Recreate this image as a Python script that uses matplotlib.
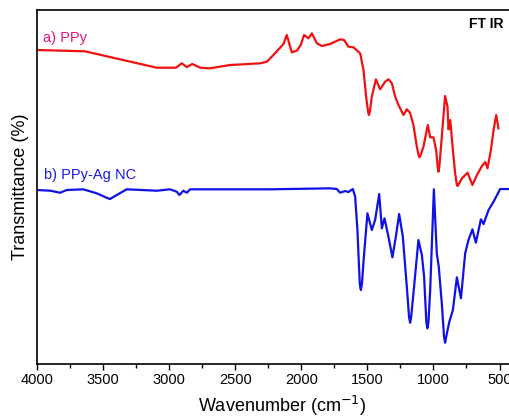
import matplotlib
matplotlib.use("Agg")
import matplotlib.pyplot as plt
from matplotlib.ticker import MultipleLocator

plt.rcParams['font.family'] = ['Liberation Sans', 'DejaVu Sans']

# FT-IR spectrum of PPy (wavenumber in cm-1, transmittance in arbitrary units)
wn_ppy = [4000, 3639, 3095, 2950, 2906, 2868, 2826, 2767, 2692, 2540, 2313,
          2262, 2212, 2136, 2111, 2073, 2035, 2005, 1980, 1947, 1921, 1883,
          1845, 1782, 1707, 1677, 1644, 1606, 1555, 1530, 1510, 1495, 1489,
          1482, 1467, 1436, 1404, 1366, 1341, 1315, 1290, 1265, 1227, 1202,
          1177, 1152, 1126, 1112, 1106, 1098, 1076, 1043, 1025, 1000, 980, 968,
          962, 955, 937, 912, 894, 886, 873, 853, 836, 824, 818, 810, 785, 742,
          705, 671, 633, 608, 591, 565, 545, 525, 508]
t_ppy = [314, 312.7, 296.3, 296.3, 300.7, 297, 300, 296.3, 295.7, 299, 300.7,
         302.3, 309, 320, 329, 311.7, 313.3, 319, 329, 325.7, 330.7, 320.7,
         318, 320, 324.7, 324, 317.3, 316.7, 310.7, 294, 267.3, 252, 249,
         252, 267.3, 284.7, 274.7, 282.3, 284.7, 280.7, 267.3, 259, 249, 254.7,
         251.3, 239, 217.3, 208.5, 206.7, 208.5, 217.3, 239, 226.7, 226.7, 214, 197,
         192.3, 198, 227.3, 268, 257.3, 234.7, 244, 214, 190.7, 180, 178, 179.5, 185.7, 191.3,
         179, 189, 198, 202, 195.7, 214, 234, 249, 235.7]

# FT-IR spectrum of the PPy-Ag nanocomposite
wn_nc = [4000, 3901, 3828, 3777, 3652, 3550, 3470, 3449, 3425, 3323, 3095,
         2995, 2944, 2924, 2894, 2868, 2843, 2237, 1783, 1732, 1707, 1669,
         1644, 1611, 1593, 1576, 1558, 1550, 1542, 1525, 1500, 1467, 1442,
         1411, 1391, 1371, 1341, 1311, 1285, 1260, 1232, 1202, 1185, 1177,
         1169, 1147, 1114, 1088, 1071, 1054, 1046, 1038, 1025, 997, 975, 960,
         937, 920, 912, 904, 880, 853, 823, 792, 760, 735, 705, 679, 641, 621,
         583, 545, 495, 400]
t_nc = [174, 173.3, 171.3, 174, 174.7, 170.7, 166, 165, 167, 174.7, 173.3,
        174.7, 172.3, 169, 173.3, 171.3, 174.7, 174.7, 175.7, 175, 171.3, 173,
        172, 175, 167.3, 134, 80, 74, 80, 110.7, 150.7, 134, 144,
        170, 135.7, 145.7, 127.3, 106.7, 127.3, 150, 127.3, 77.3, 47, 41.3,
        47, 77.3, 124, 109, 87.3, 42, 35.7, 42, 74, 174.7, 110.7, 97.3,
        60.7, 27, 21.3, 27, 42.3, 54, 86.7, 65.7, 110.7, 124, 134.7, 121.3,
        144.7, 140, 154, 162.3, 175, 175]

fig = plt.figure(figsize=(5.09, 4.17), dpi=100)
ax = fig.add_axes([0.0733, 0.127, 0.934, 0.849])

ax.plot(wn_ppy, t_ppy, color='#f01010', lw=1.6, solid_joinstyle='round')
ax.plot(wn_nc, t_nc, color='#1010e8', lw=1.6, solid_joinstyle='round')

ax.set_xlim(4000, 400)
ax.set_ylim(0, 354)

ax.text(3959, 321.7, 'a) PPy', color='#e6157a', fontsize=10.5, va='baseline')
ax.text(3949, 185, 'b) PPy-Ag NC', color='#1a1ae6', fontsize=10.5, va='baseline')
ax.text(470, 335.7, 'FT IR', fontsize=10, fontweight='bold', ha='right', va='baseline')

ax.xaxis.set_major_locator(MultipleLocator(500))
ax.xaxis.set_minor_locator(MultipleLocator(250))
ax.tick_params(axis='x', which='major', direction='out', length=4.5, width=1,
               labelsize=10.5, pad=2)
ax.tick_params(axis='x', which='minor', direction='out', length=3, width=1)
ax.set_yticks([])

for s in ['left', 'top', 'bottom', 'right']:
    ax.spines[s].set_linewidth(1.2)

ax.set_xlabel('Wavenumber (cm$^{-1}$)', fontsize=13, labelpad=1)
ax.xaxis.set_label_coords(0.514, -0.085)
ax.set_ylabel('Transmittance (%)', fontsize=13, labelpad=6)

fig.savefig('out.png', dpi=100)
